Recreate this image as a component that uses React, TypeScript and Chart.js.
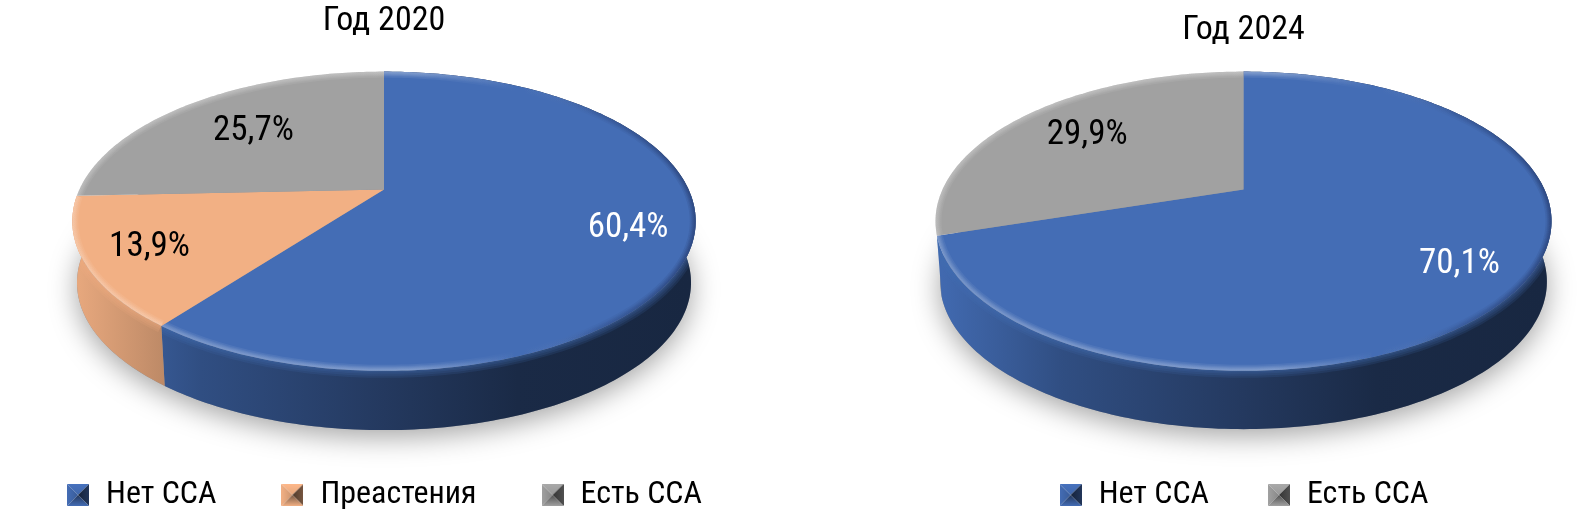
import React, { useEffect, useRef } from "react";
import { Chart, registerables } from "chart.js";

Chart.register(...registerables);

const FONT = '"Roboto Condensed", "Open Sans", sans-serif';

const labels2020 = ["Нет ССА", "Преастения", "Есть ССА"];
const values2020 = [60.4, 13.9, 25.7];
const labels2024 = ["Нет ССА", "Есть ССА"];
const values2024 = [70.1, 29.9];
const colors2020 = ["#446DB5", "#F2B084", "#A1A1A1"];
const colors2024 = ["#446DB5", "#A1A1A1"];
const labelColors2020 = ["#ffffff", "#000000", "#000000"];
const labelColors2024 = ["#ffffff", "#000000"];
const labelRadii2020 = [0.8, 0.8, 0.65];
const labelRadii2024 = [0.8, 0.7];
const wallGain2020 = [1, 0.98, 1];
const wallGain2024 = [1, 1];

type Geo = {
  cx: number; cy: number; A: number; B: number; k: number;
  depth: number; shrink: number;
};

function rgb(hex: string) {
  return [1, 3, 5].map((i) => parseInt(hex.slice(i, i + 2), 16));
}
function shade(hex: string, f: number) {
  const [r, g, b] = rgb(hex);
  return `rgb(${Math.min(255, r * f) | 0},${Math.min(255, g * f) | 0},${Math.min(255, b * f) | 0})`;
}
function alpha(hex: string, a: number) {
  const [r, g, b] = rgb(hex);
  return `rgba(${r},${g},${b},${a})`;
}

function project(g: Geo, a: number, r: number, bottom = false) {
  const u = Math.cos(a) * r;
  const v = -Math.sin(a) * r;
  const w = 1 + g.k * v;
  const s = bottom ? g.shrink : 1;
  return {
    x: g.cx + (g.A * s * u) / w,
    y: g.cy + (bottom ? g.depth : 0) - (g.B * s * v) / w,
  };
}

function rimPoints(g: Geo, a0: number, a1: number, r: number, bottom = false) {
  const n = Math.max(4, Math.ceil(Math.abs(a1 - a0) * 60));
  const pts = [];
  for (let i = 0; i <= n; i++) pts.push(project(g, a0 + ((a1 - a0) * i) / n, r, bottom));
  return pts;
}

function tracePoints(ctx: CanvasRenderingContext2D, pts: { x: number; y: number }[], move = true) {
  pts.forEach((p, i) => {
    if (i === 0 && move) ctx.moveTo(p.x, p.y);
    else ctx.lineTo(p.x, p.y);
  });
}

const pie3d = {
  id: "pie3d",
  beforeDatasetDraw(chart: any, args: any, opts: any) {
    const ctx: CanvasRenderingContext2D = chart.ctx;
    const g: Geo = opts.geo;
    const meta = chart.getDatasetMeta(args.index);
    const arcs = meta.data;
    const bg = chart.data.datasets[args.index].backgroundColor as string[];
    const isFront = (el: any) => Math.sin((el.startAngle + el.endAngle) / 2) > 0;

    // soft ground shadow
    ctx.save();
    ctx.shadowColor = "rgba(0,0,0,0.36)";
    ctx.shadowBlur = 28;
    ctx.shadowOffsetY = 7;
    ctx.fillStyle = "#8a8f98";
    ctx.beginPath();
    tracePoints(ctx, rimPoints(g, 0, Math.PI * 2, 1, true));
    ctx.closePath();
    ctx.fill();
    ctx.restore();

    // side walls (back slices stay hidden behind the front ones)
    arcs.forEach((el: any, i: number) => {
      if (!isFront(el)) return;
      const top = rimPoints(g, el.startAngle, el.endAngle, 1);
      const bot = rimPoints(g, el.startAngle, el.endAngle, 1, true).reverse();
      const grad = ctx.createLinearGradient(g.cx - g.A, 0, g.cx + g.A, 0);
      const gain = opts.wallGain[i];
      [[0, 0.97], [0.1, 0.85], [0.2, 0.72], [0.5, 0.53], [0.72, 0.39], [1, 0.36]].forEach(([p, f]) =>
        grad.addColorStop(p, shade(bg[i], f * gain))
      );
      ctx.fillStyle = grad;
      ctx.beginPath();
      tracePoints(ctx, top);
      tracePoints(ctx, bot, false);
      ctx.closePath();
      ctx.fill();

      // soft blend of the wall into the face colour just under the rim
      const a0 = Math.max(el.startAngle, 0.04);
      const a1 = Math.min(el.endAngle, Math.PI - 0.04);
      if (a1 > a0) {
        ctx.save();
        ctx.beginPath();
        tracePoints(ctx, top);
        tracePoints(ctx, bot, false);
        ctx.closePath();
        ctx.clip();
        ctx.strokeStyle = alpha(bg[i], 0.16);
        [14, 10, 6, 3].forEach((w) => {
          ctx.lineWidth = w;
          ctx.beginPath();
          tracePoints(ctx, rimPoints(g, a0, a1, 1));
          ctx.stroke();
        });
        ctx.restore();
      }
    });

    // top faces
    arcs.forEach((el: any, i: number) => {
      ctx.fillStyle = bg[i];
      ctx.beginPath();
      const c = project(g, 0, 0);
      ctx.moveTo(c.x, c.y);
      tracePoints(ctx, rimPoints(g, el.startAngle, el.endAngle, 1), false);
      ctx.closePath();
      ctx.fill();
    });

    // bevel along the rim
    arcs.forEach((el: any) => {
      ctx.save();
      const c = project(g, 0, 0);
      ctx.beginPath();
      ctx.moveTo(c.x, c.y);
      tracePoints(ctx, rimPoints(g, el.startAngle, el.endAngle, 1), false);
      ctx.closePath();
      ctx.clip();
      const grad = ctx.createLinearGradient(g.cx - g.A, 0, g.cx + g.A, 0);
      grad.addColorStop(0, "rgba(255,255,255,0.06)");
      grad.addColorStop(0.55, "rgba(255,255,255,0.07)");
      grad.addColorStop(0.72, "rgba(255,255,255,0.0)");
      grad.addColorStop(0.85, "rgba(0,0,30,0.03)");
      grad.addColorStop(1, "rgba(0,0,30,0.07)");
      ctx.strokeStyle = grad;
      ctx.lineJoin = "round";
      [12, 9, 7, 5, 3].forEach((w) => {
        ctx.lineWidth = w;
        ctx.beginPath();
        tracePoints(ctx, rimPoints(g, el.startAngle, el.endAngle, 1));
        ctx.stroke();
      });
      ctx.restore();
    });

    // value labels
    ctx.save();
    ctx.font = `35px ${FONT}`;
    ctx.textAlign = "center";
    ctx.textBaseline = "middle";
    const values = chart.data.datasets[args.index].data as number[];
    arcs.forEach((el: any, i: number) => {
      const p = project(g, (el.startAngle + el.endAngle) / 2, opts.labelRadii[i]);
      ctx.fillStyle = opts.labelColors[i];
      ctx.fillText(values[i].toFixed(1).replace(".", ",") + "%", p.x, p.y);
    });
    ctx.restore();
    return false;
  },
};

function marker(color: string) {
  const s = 22;
  const c = document.createElement("canvas");
  c.width = s;
  c.height = s;
  const x = c.getContext("2d")!;
  const tri = (ax: number, ay: number, bx: number, by: number, f0: number, f1: number, gx0: number, gy0: number, gx1: number, gy1: number) => {
    const gr = x.createLinearGradient(gx0, gy0, gx1, gy1);
    gr.addColorStop(0, shade(color, f0));
    gr.addColorStop(1, shade(color, f1));
    x.fillStyle = gr;
    x.beginPath();
    x.moveTo(ax, ay);
    x.lineTo(bx, by);
    x.lineTo(s / 2, s / 2);
    x.closePath();
    x.fill();
  };
  tri(0, 0, s, 0, 1.05, 0.95, 0, 0, 0, s / 2);
  tri(0, 0, 0, s, 1.0, 0.85, 0, 0, s / 2, 0);
  tri(s, 0, s, s, 0.5, 0.33, s, 0, s / 2, 0);
  tri(0, s, s, s, 1.0, 0.5, 0, s, 0, s / 2);
  return c;
}

type PieProps = {
  left: number; width: number; title: string; titleTop: number;
  labels: string[]; values: number[]; colors: string[];
  labelColors: string[]; labelRadii: number[]; wallGain: number[];
  geo: Geo; legendPadding: number;
};

function Pie(p: PieProps) {
  const ref = useRef<HTMLCanvasElement>(null);
  useEffect(() => {
    const markers = p.colors.map(marker);
    const chart = new Chart(ref.current!, {
      type: "pie",
      data: {
        labels: p.labels,
        datasets: [{ data: p.values, backgroundColor: p.colors, borderWidth: 0 }],
      },
      plugins: [pie3d],
      options: {
        responsive: false,
        animation: false,
        layout: { padding: { bottom: -7 } },
        plugins: {
          pie3d: { geo: p.geo, labelColors: p.labelColors, labelRadii: p.labelRadii, wallGain: p.wallGain },
          tooltip: { enabled: false },
          title: {
            display: true,
            text: p.title,
            color: "#000",
            font: { family: FONT, size: 34, weight: "normal" },
            padding: { top: p.titleTop, bottom: 0 },
          },
          legend: {
            position: "bottom",
            labels: {
              usePointStyle: true,
              pointStyleWidth: 24,
              color: "#000",
              padding: p.legendPadding,
              font: { family: FONT, size: 32, weight: "normal" },
              generateLabels: () =>
                p.labels.map((text, i) => ({
                  text,
                  fontColor: "#000",
                  fillStyle: p.colors[i],
                  strokeStyle: p.colors[i],
                  lineWidth: 0,
                  pointStyle: markers[i],
                  hidden: false,
                  index: i,
                })),
            },
          },
        },
      } as any,
    });
    return () => chart.destroy();
  }, []);
  return (
    <canvas
      ref={ref}
      width={p.width}
      height={514}
      style={{ position: "absolute", left: p.left, top: 0, width: p.width, height: 514 }}
    />
  );
}

export default function App() {
  return (
    <div style={{ position: "absolute", left: 0, top: 0, width: 1580, height: 514, overflow: "hidden", background: "#fff" }}>
      <Pie
        left={0} width={768} title="Год 2020" titleTop={1}
        labels={labels2020} values={values2020} colors={colors2020}
        labelColors={labelColors2020} labelRadii={labelRadii2020} wallGain={wallGain2020}
        geo={{ cx: 384, cy: 189.5, A: 304.6, B: 142.9, k: 0.212, depth: 62, shrink: 0.985 }}
        legendPadding={64}
      />
      <Pie
        left={907} width={673} title="Год 2024" titleTop={10}
        labels={labels2024} values={values2024} colors={colors2024}
        labelColors={labelColors2024} labelRadii={labelRadii2024} wallGain={wallGain2024}
        geo={{ cx: 336.5, cy: 189.5, A: 301, B: 142.9, k: 0.212, depth: 61, shrink: 0.985 }}
        legendPadding={58}
      />
    </div>
  );
}
